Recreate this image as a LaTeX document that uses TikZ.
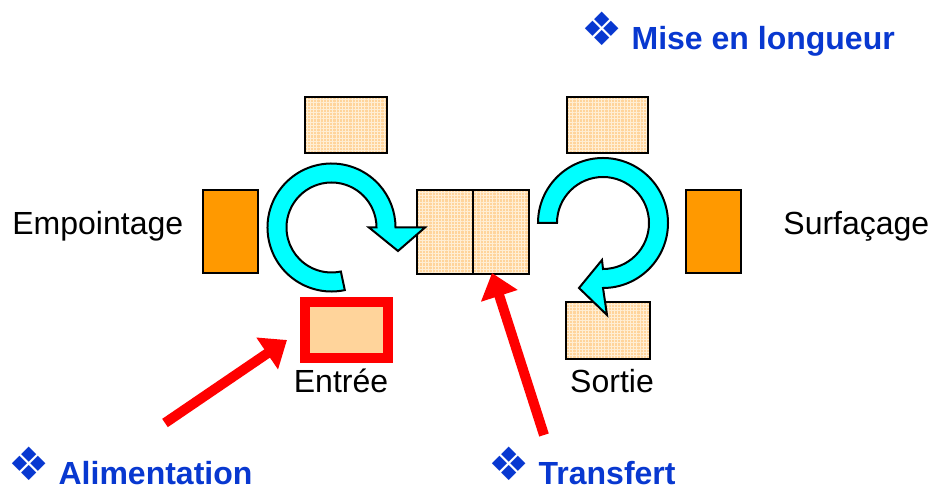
\documentclass[tikz,border=0pt]{standalone}
\usepackage{fontspec}
\setmainfont{Liberation Sans}
\newfontfamily\dingfont{DejaVu Sans}
\usepackage{tikz}
\usetikzlibrary{positioning, shapes, arrows, arrows.meta, patterns.meta}

\definecolor{peach}{RGB}{255,212,155}
\definecolor{peachdot}{RGB}{255,238,212}
\definecolor{boxorange}{RGB}{255,153,0}
\definecolor{turncyan}{RGB}{0,255,255}
\definecolor{titleblue}{RGB}{8,56,208}

\tikzset{
  tile/.style={draw=black, line width=1pt, preaction={fill=peach},
    pattern={Hatch[angle=0, distance=1.6pt, line width=0.45pt]}, pattern color=peachdot},
  endbox/.style={draw=black, line width=1pt, fill=boxorange},
  turn/.style={draw=black, line width=1pt, fill=turncyan},
  feed/.style={draw=red, line width=5pt, -{Triangle[width=18.5pt, length=12pt]}},
  station/.style={font=\fontsize{16}{19}\selectfont, text=black},
  heading/.style={font=\fontsize{16}{19}\selectfont\bfseries, text=titleblue, text depth=0pt}
}
\newcommand{\puce}{\raisebox{2pt}{\dingfont\fontsize{23}{23}\selectfont ❖}\hspace{4.5pt}}

\begin{document}
\begin{tikzpicture}[x=0.5pt, y=-0.5pt]
\useasboundingbox (0,0) rectangle (931,490);

% the stations around the two turntables
 \node[tile, minimum width=41pt, minimum height=28pt] (topL) at (346,125) {};
 \node[tile, minimum width=40.5pt, minimum height=28pt] (topR) at (607.5,125) {};
 \node[tile, minimum width=28pt, minimum height=42pt] (midL) at (445,232) {};
 \node[tile, minimum width=28pt, minimum height=42pt] (midR) at (501,232) {};
 \node[endbox, minimum width=27.5pt, minimum height=41.5pt] (empB) at (230.5,231.5) {};
 \node[endbox, minimum width=27.5pt, minimum height=41.5pt] (surB) at (713.5,231.5) {};
 \node[draw=red, line width=5pt, fill=peach, minimum width=41.5pt, minimum height=28pt] (entree) at (346.5,330) {};
 \node[tile, minimum width=42pt, minimum height=28.5pt] (sortie) at (608,330.5) {};

% the labels
 \node[station, anchor=base west, inner sep=0pt] (lEmp) at (12,235) {Empointage};
 \node[station, anchor=base west, inner sep=0pt] (lSur) at (783,235) {Surfaçage};
 \node[station, anchor=base, inner sep=0pt] (lEnt) at (341,393) {Entrée};
 \node[station, anchor=base, inner sep=0pt] (lSor) at (612,393) {Sortie};

% the two turning arrows
\coordinate (c1) at (331.5,227.5);
\coordinate (c2) at (603,223);
\draw[turn] ([shift={(78:64)}]c1) arc[start angle=78, end angle=360, radius=64]
  -- (425,227.5) -- (398,251) -- (369,227.5)
  -- ([shift={(0:45)}]c1) arc[start angle=360, end angle=78, radius=45] -- cycle;
\draw[turn] ([shift={(180:65)}]c2) arc[start angle=180, end angle=450, radius=65]
  -- (607,315) -- (579,288) -- (602,260)
  -- ([shift={(450:46)}]c2) arc[start angle=450, end angle=180, radius=46] -- cycle;

% the headings
 \node[heading, anchor=base west, inner sep=0pt] (hMise) at (581,50) {\puce Mise en longueur};
 \node[heading, anchor=base west, inner sep=0pt] (hAlim) at (8,485) {\puce Alimentation};
 \node[heading, anchor=base west, inner sep=0pt] (hTrans) at (488,485) {\puce Transfert};

% the red pointers
\coordinate (alimTail) at (165,423);
\coordinate (alimTip) at (287,340);
\coordinate (transTail) at (544,435);
\coordinate (transTip) at (492,273);
\draw[feed] (alimTail) -- (alimTip);
\draw[feed] (transTail) -- (transTip);
\end{tikzpicture}
\end{document}
